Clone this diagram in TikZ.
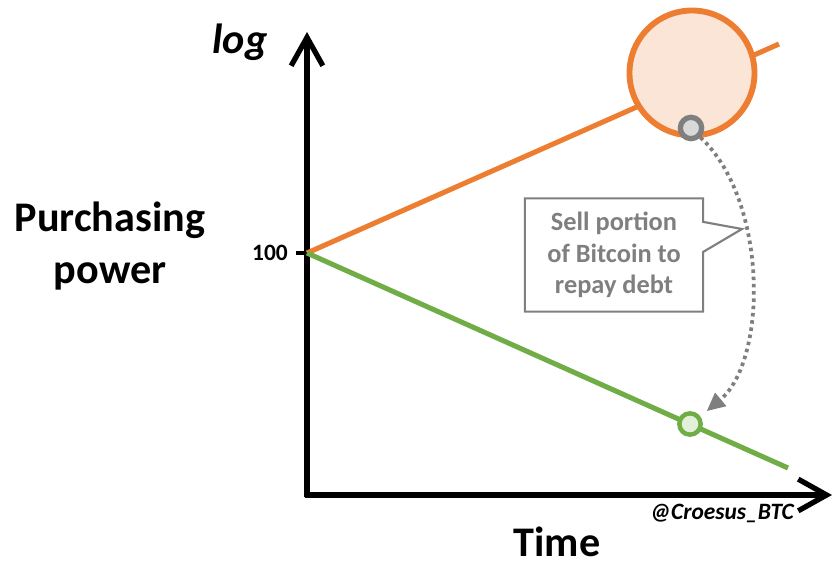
\documentclass[tikz,border=0pt]{standalone}
\usepackage{fontspec}
\setmainfont{Carlito}
\usetikzlibrary{positioning, arrows.meta, shapes.callouts}

\definecolor{btcorange}{HTML}{ED7D31}
\definecolor{btcorangelight}{HTML}{FBE5D6}
\definecolor{debtgreen}{HTML}{70AD47}
\definecolor{debtgreenlight}{HTML}{E2F0D9}
\definecolor{notegray}{HTML}{7F7F7F}
\definecolor{notegraylight}{HTML}{D9D9D9}

\tikzset{
    axis/.style = {line width=4.5pt, -{Straight Barb[length=0.85cm, width=0.95cm, line width=4.5pt]}},
    btcline/.style = {line width=4.3pt, btcorange},
    debtline/.style = {line width=4.3pt, debtgreen},
    marker/.style = {circle, inner sep=0pt, line width=4.5pt, minimum size=0.64cm}
}

\begin{document}
\begin{tikzpicture}[x=0.03cm, y=-0.03cm]
\useasboundingbox (0,0) rectangle (834,566);

% axes
\coordinate (origin) at (307,495);
\coordinate (ytip) at (307,32);
\coordinate (xtip) at (832,495);
\draw [axis] ([yshift=-2pt]origin) -- (ytip);
\draw [axis] ([xshift=-2pt]origin) -- (xtip);

\coordinate (start) at (307,253);
\coordinate (tick) at (296,253);
\draw [line width=3pt] (tick) -- (start);
\node [anchor=east, font=\fontsize{20}{24}\selectfont\bfseries] (hundred) at (292,253) {100};

\node [align=center, font=\fontsize{36}{44}\selectfont\bfseries] (ylabel) at (110,246) {Purchasing\\power};
\node [font=\fontsize{36}{40}\selectfont\bfseries\itshape] (logl) at (240,42) {log};
\node [inner sep=0pt, font=\fontsize{36}{40}\selectfont\bfseries] (xlabel) at (557,542) {Time};
\node [font=\fontsize{20}{24}\selectfont\bfseries\itshape] (handle) at (722,513) {@Croesus\_BTC};

% the two paths
\coordinate (btcend) at (779,44);
\coordinate (debtend) at (788,468);
\draw [btcline] (start) -- (btcend);
\draw [debtline] (start) -- (debtend);

\node [circle, draw=btcorange, fill=btcorangelight, line width=5pt, minimum size=3.75cm, inner sep=0pt] (bigcircle) at (692,73) {};

\node [marker, draw=notegray, fill=notegraylight] (sellpt) at (691,128) {};
\node [marker, draw=debtgreen, fill=debtgreenlight, line width=3.8pt] (buypt) at (690,424) {};

% selling move
\draw [notegray, line width=3.2pt, dash pattern=on 3pt off 3.2pt, -{Triangle[length=0.55cm, width=0.5cm]}]
    (sellpt.south east) .. controls (768,200) and (768,360) .. ([xshift=0.5cm]buypt.north);

\node [rectangle callout, draw=notegray, line width=1.8pt, fill=white, text=notegray,
       minimum width=5.35cm, minimum height=3.4cm, align=center,
       callout absolute pointer={(742,229)}, callout pointer width=0.9cm,
       font=\fontsize{22.5}{27}\selectfont\bfseries] (note) at (614,255)
    {Sell portion\\of Bitcoin to\\repay debt};

\end{tikzpicture}
\end{document}
